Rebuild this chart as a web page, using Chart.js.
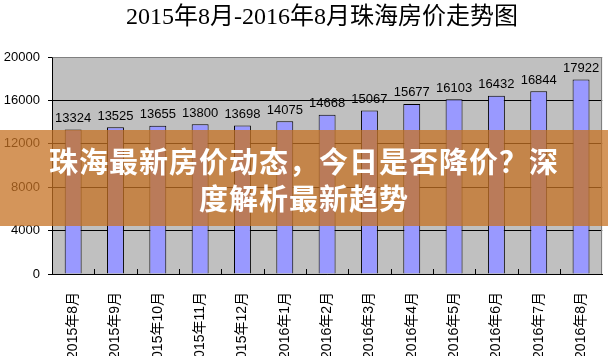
<!DOCTYPE html>
<html>
<head>
<meta charset="utf-8">
<script src="https://cdn.jsdelivr.net/npm/chart.js@4/dist/chart.umd.min.js"></script>
<style>
  html, body { margin: 0; padding: 0; background: #fff; }
  #wrap { position: relative; width: 608px; height: 356px; overflow: hidden; }
  #banner {
    position: absolute; left: 0; top: 130px; width: 608px; height: 96px;
    background: rgba(198,114,35,0.75);
    color: #fff; font-family: "Noto Sans CJK SC", sans-serif; font-weight: bold;
    font-size: 29px; line-height: 37px; text-align: center;
    box-sizing: border-box; padding-top: 12px; letter-spacing: 1px;
  }
</style>
</head>
<body>
<div id="wrap">
  <canvas id="c" width="608" height="356"></canvas>
  <div id="banner">珠海最新房价动态，今日是否降价？深<br>度解析最新趋势</div>
</div>
<script>
const titleText = "2015年8月-2016年8月珠海房价走势图";
const categories = ["2015年8月","2015年9月","2015年10月","2015年11月","2015年12月","2016年1月","2016年2月","2016年3月","2016年4月","2016年5月","2016年6月","2016年7月","2016年8月"];
const prices = [13324, 13525, 13655, 13800, 13698, 14075, 14668, 15067, 15677, 16103, 16432, 16844, 17922];
const yTicks = [0, 4000, 8000, 12000, 16000, 20000];

const decor = {
  id: 'decor',
  beforeDraw(chart) {
    const ctx = chart.ctx, a = chart.chartArea;
    ctx.save();
    ctx.fillStyle = '#C0C0C0';
    ctx.fillRect(a.left, a.top, a.right - a.left, a.bottom - a.top);
    ctx.fillStyle = '#000';
    ctx.font = '24px "Liberation Serif", "Noto Sans CJK SC", serif';
    ctx.textAlign = 'center';
    ctx.textBaseline = 'middle';
    ctx.fillText(titleText, 322, 18);
    ctx.restore();
  },
  beforeDatasetsDraw(chart) {
    const ctx = chart.ctx, a = chart.chartArea, x = chart.scales.x;
    ctx.save();
    ctx.strokeStyle = '#000';
    ctx.lineWidth = 1;
    for (let i = 1; i < categories.length; i++) {
      const px = Math.round((x.getPixelForValue(i - 1) + x.getPixelForValue(i)) / 2) + 0.5;
      ctx.beginPath();
      ctx.moveTo(px, a.bottom);
      ctx.lineTo(px, a.bottom - 5);
      ctx.stroke();
    }
    ctx.restore();
  },
  afterDatasetsDraw(chart) {
    const ctx = chart.ctx, a = chart.chartArea;
    ctx.save();
    ctx.lineWidth = 1;
    ctx.strokeStyle = '#808080';
    ctx.beginPath();
    ctx.moveTo(Math.round(a.left) + 0.5, Math.round(a.top) + 0.5);
    ctx.lineTo(Math.round(a.right) - 0.5, Math.round(a.top) + 0.5);
    ctx.lineTo(Math.round(a.right) - 0.5, Math.round(a.bottom));
    ctx.stroke();
    const meta = chart.getDatasetMeta(0);
    ctx.fillStyle = '#000';
    ctx.font = '13px "Liberation Sans", Arial, sans-serif';
    ctx.textAlign = 'center';
    ctx.textBaseline = 'middle';
    meta.data.forEach((bar, i) => {
      ctx.fillText(String(prices[i]), bar.x, bar.y - 11);
    });
    ctx.restore();
  }
};

new Chart(document.getElementById('c'), {
  type: 'bar',
  data: {
    labels: categories,
    datasets: [{
      data: prices,
      backgroundColor: '#9999FF',
      borderColor: '#000000',
      borderWidth: 1,
      categoryPercentage: 1.0,
      barPercentage: 0.4
    }]
  },
  options: {
    responsive: false,
    animation: false,
    layout: { padding: { top: 57, right: 4, left: 0, bottom: 0 } },
    plugins: {
      legend: { display: false },
      tooltip: { enabled: false },
      title: { display: false }
    },
    scales: {
      x: {
        grid: { display: false },
        border: { display: true, color: '#000', width: 1 },
        ticks: {
          autoSkip: false, minRotation: 90, maxRotation: 90, padding: 10,
          color: '#000',
          font: { family: '"Liberation Sans", "Noto Sans CJK SC", sans-serif', size: 14 }
        },
        afterFit(s) { s.height = 82; }
      },
      y: {
        min: 0, max: 20000,
        afterBuildTicks(s) { s.ticks = yTicks.map(v => ({ value: v })); },
        grid: {
          color: (c) => (c.tick && c.tick.value === 20000) ? '#808080' : '#000',
          lineWidth: 1,
          tickLength: 4,
          tickColor: '#000'
        },
        border: { display: true, color: '#000', width: 1 },
        ticks: {
          padding: 8, color: '#000',
          callback: (v) => String(v),
          font: { family: '"Liberation Sans", sans-serif', size: 13 }
        },
        afterFit(s) { s.width = 52; }
      }
    }
  },
  plugins: [decor]
});
</script>
</body>
</html>
